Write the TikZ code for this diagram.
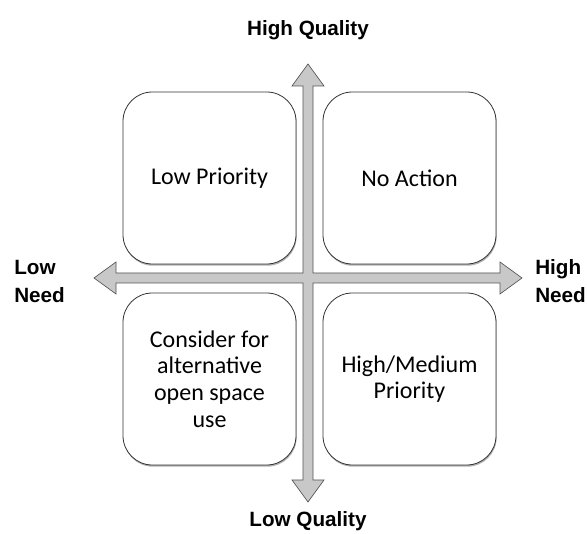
\documentclass[tikz,border=0pt]{standalone}
\usepackage{fontspec}
\setmainfont{Carlito}
\newfontfamily\labelfont{Liberation Sans}
\usepackage{tikz}
\usetikzlibrary{positioning}
\usetikzlibrary{shadows}
\definecolor{axisgray}{RGB}{200,200,200}
\definecolor{edgegray}{RGB}{85,85,85}

\begin{document}
\begin{tikzpicture}[x=0.75pt,y=-0.75pt,
		quad/.style={draw=black!80, line width=0.6pt, fill=white, rounded corners=22pt,
			minimum width=129.75pt, minimum height=129pt, align=center,
			font=\fontsize{18}{20}\selectfont,
			drop shadow={shadow xshift=0.5pt, shadow yshift=-1.3pt, fill=black!30, opacity=1}},
		axislbl/.style={font=\labelfont\bfseries\fontsize{15.5}{21}\selectfont, align=left, inner sep=0pt}]
	\useasboundingbox (0,0) rectangle (587,534);
	
	% the two axes as one cross
	\filldraw[fill=axisgray, draw=edgegray, line width=0.5pt]
		(308,64) -- (324,86) -- (313,86) -- (313,273) -- (500,273) -- (500,262)
		-- (522,278) -- (500,294) -- (500,283) -- (313,283) -- (313,480) -- (324,480)
		-- (308,502) -- (292,480) -- (303,480) -- (303,283) -- (116,283) -- (116,294)
		-- (94,278) -- (116,262) -- (116,273) -- (303,273) -- (303,86) -- (292,86) -- cycle;
	
	\node[quad] (lowprio) at (209.5,178) {Low Priority};
	\node[quad] (noaction) at (409.5,178) {No Action};
	\node[quad] (consider) at (209.5,379) {Consider for\\alternative\\open space\\use};
	\node[quad] (highmed) at (409.5,379) {High/Medium\\Priority};
	
	\node[axislbl] (hq) at (308,30) {High Quality};
	\node[axislbl] (lq) at (308,521) {Low Quality};
	\node[axislbl, anchor=west] (ln) at (14,281) {Low\\Need};
	\node[axislbl, anchor=west] (hn) at (535,281) {High\\Need};
\end{tikzpicture}
\end{document}
